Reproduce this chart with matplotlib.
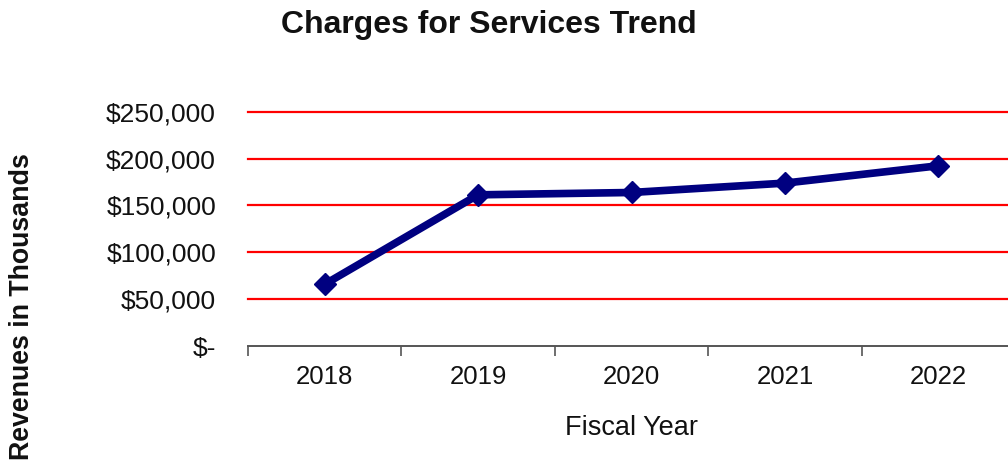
import matplotlib.pyplot as plt
from matplotlib.ticker import FixedLocator, FuncFormatter
import numpy as np

plt.rcParams['font.family'] = ['Liberation Sans', 'DejaVu Sans']

# fiscal years and revenues (thousands of dollars)
years = ['2018', '2019', '2020', '2021', '2022']
revenues = [65900, 161300, 163800, 173800, 192300]
y_ticks = [0, 50000, 100000, 150000, 200000, 250000]


def money(v, pos=None):
    if v == 0:
        return '$-'
    return '${:,.0f}'.format(v)


fig = plt.figure(figsize=(10.08, 4.61), dpi=100)
ax = fig.add_axes([248 / 1008, 115 / 461, 767 / 1008, 234.3 / 461])

x = np.arange(len(years))
ax.plot(x, revenues, color='#000080', lw=5.5, marker='D', ms=11.5,
        solid_joinstyle='miter', zorder=3)

ax.set_xlim(-0.5, len(years) - 0.5)
ax.set_ylim(0, 250000)

# red horizontal gridlines
ax.yaxis.set_major_locator(FixedLocator(y_ticks))
ax.yaxis.set_major_formatter(FuncFormatter(money))
for v in y_ticks[1:]:
    ax.axhline(v, color='#ff0000', lw=1.6, zorder=1, clip_on=False)

ax.set_xticks(x)
ax.set_xticklabels(years)
ax.set_xticks(np.arange(-0.5, len(years)), minor=True)
ax.tick_params(axis='x', which='major', length=0, pad=14, labelsize=18.5,
               labelcolor='#111111')
ax.tick_params(axis='x', which='minor', length=7, width=1.2,
               color='#555555', direction='out')
ax.tick_params(axis='y', length=0, pad=23, labelsize=19,
               labelcolor='#111111')

for side in ['top', 'right', 'left']:
    ax.spines[side].set_visible(False)
ax.spines['bottom'].set_color('#555555')
ax.spines['bottom'].set_linewidth(1.4)

fig.text(0.485, 0.945, 'Charges for Services Trend', ha='center',
         va='center', fontsize=23, fontweight='bold', color='#111111')
fig.text(0.022, 0.336, 'Revenues in Thousands', rotation=90, ha='center',
         va='center', fontsize=19.3, fontweight='bold', color='#111111')
fig.text(0.626, 0.071, 'Fiscal Year', ha='center', va='center',
         fontsize=19.5, color='#111111')

fig.savefig('out.png', dpi=100)
